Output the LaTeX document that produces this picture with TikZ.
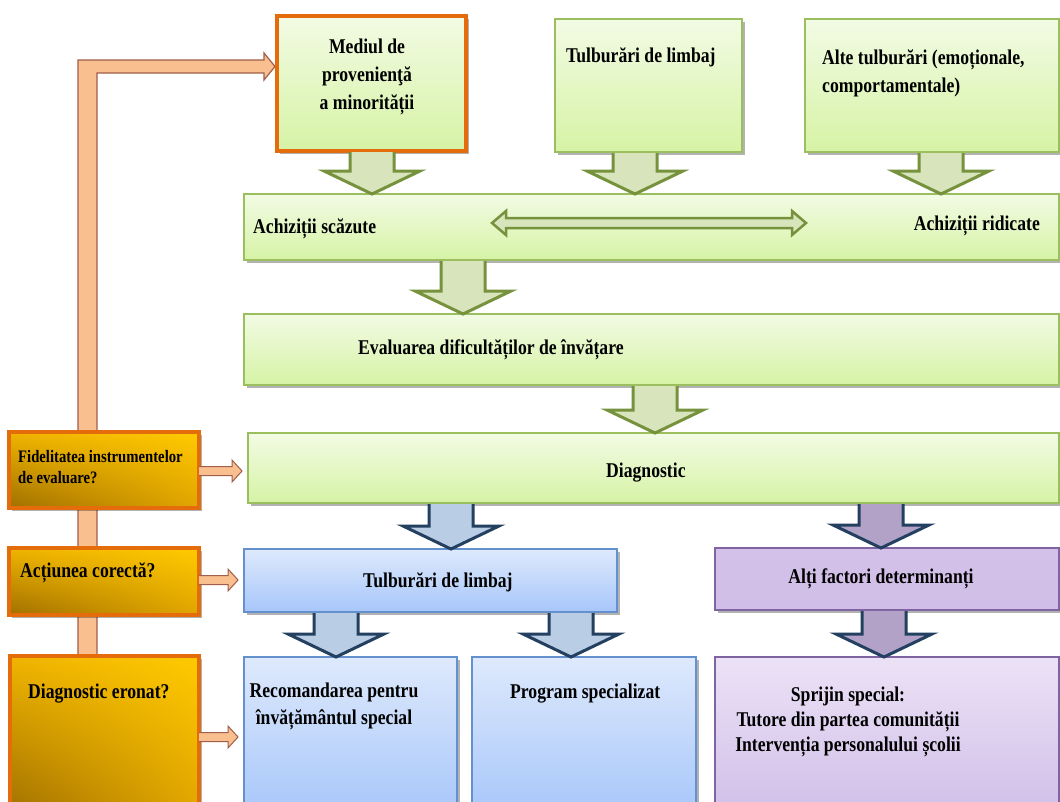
\documentclass[tikz,border=0pt]{standalone}
\usepackage{fontspec}
\setmainfont{Liberation Serif}[FakeStretch=0.84]
\usetikzlibrary{calc,shadows,shadings}
\definecolor{gtop}{RGB}{242,251,228}
\definecolor{gbot}{RGB}{214,243,165}
\definecolor{gline}{RGB}{155,190,95}
\definecolor{garf}{RGB}{216,228,188}
\definecolor{garl}{RGB}{118,146,60}
\definecolor{btop}{RGB}{222,233,252}
\definecolor{bbot}{RGB}{166,198,250}
\definecolor{bline}{RGB}{100,145,205}
\definecolor{barf}{RGB}{185,205,229}
\definecolor{navy}{RGB}{36,64,97}
\definecolor{ptop}{RGB}{236,226,246}
\definecolor{pbot}{RGB}{208,190,232}
\definecolor{pmid}{RGB}{211,193,233}
\definecolor{pline}{RGB}{128,100,162}
\definecolor{parf}{RGB}{178,162,199}
\definecolor{oline}{RGB}{228,108,10}
\definecolor{pipef}{RGB}{250,191,143}
\definecolor{pipel}{RGB}{160,95,75}
\definecolor{goldul}{RGB}{240,180,0}
\definecolor{goldur}{RGB}{255,202,0}
\definecolor{goldll}{RGB}{160,112,0}
\definecolor{goldlr}{RGB}{225,165,0}
\newcommand\blkdown[4]{% style, x, from node, to node
  \coordinate (at) at (#2,0 |- #3.south);
  \coordinate (ab) at (#2,0 |- #4.north);
  \filldraw[#1] ($(at)+(-22,1)$) -- ($(ab)+(-22,-23)$) -- ($(ab)+(-48,-23)$) -- (ab)
    -- ($(ab)+(48,-23)$) -- ($(ab)+(22,-23)$) -- ($(at)+(22,1)$);}
\newcommand\blkright[3]{% y, from node, to node
  \coordinate (bs) at (#2.east |- 0,#1);
  \coordinate (bt) at ($(#3.west |- 0,#1)+(-6,0)$);
  \filldraw[sarrow] ($(bs)+(0,-4.5)$) -- ($(bt)+(-10,-4.5)$) -- ($(bt)+(-10,-11)$) -- (bt)
    -- ($(bt)+(-10,11)$) -- ($(bt)+(-10,4.5)$) -- ($(bs)+(0,4.5)$);}
\begin{document}
\begin{tikzpicture}[x=1pt,y=-1pt,
  box/.style={anchor=north west, inner sep=0, outer sep=0,
    drop shadow={shadow xshift=2.5pt,shadow yshift=-2.5pt,opacity=0.3,fill=black}},
  gbox/.style={box, draw=gline, line width=1.2pt, top color=gtop, bottom color=gbot},
  bbox/.style={box, draw=bline, line width=1.2pt, top color=btop, bottom color=bbot},
  pbox/.style={box, draw=pline, line width=1.2pt, top color=ptop, bottom color=pbot},
  obox/.style={box, draw=oline, line width=3.5pt, upper left=goldul, upper right=goldur,
    lower left=goldll, lower right=goldlr},
  garrow/.style={fill=garf, draw=garl, line width=3pt, line join=miter},
  barrow/.style={fill=barf, draw=navy, line width=3pt, line join=miter},
  parrow/.style={fill=parf, draw=navy, line width=3pt, line join=miter},
  sarrow/.style={fill=pipef, draw=pipel, line width=1pt},
  pipe/.style={fill=pipef, draw=pipel, line width=1.2pt},
  txt/.style={inner sep=0, font=\bfseries\fontsize{21}{28}\selectfont},
  stxt/.style={inner sep=0, font=\bfseries\fontsize{17.5}{21}\selectfont}]
\useasboundingbox[fill=white] (0,0) rectangle (1060,801);
% orange feedback pipe
\filldraw[pipe] (78,656) -- (78,60) -- (264,60) -- (264,53) -- (275,66.5) -- (264,80) -- (264,73) -- (97,73) -- (97,656);
% boxes
\node[gbox, draw=oline, line width=3.5pt, minimum width=189, minimum height=135] (mediul) at (277,16) {};
\node[gbox, minimum width=187, minimum height=133] (tl1) at (555,19) {};
\node[gbox, minimum width=254, minimum height=133] (alte) at (805,19) {};
\node[gbox, minimum width=815, minimum height=66] (achiz) at (244,194) {};
\node[gbox, minimum width=815, minimum height=71] (eval) at (244,314) {};
\node[gbox, minimum width=811, minimum height=70] (diag) at (248,433) {};
\node[bbox, minimum width=373, minimum height=63] (tl2) at (244,549) {};
\node[pbox, top color=pmid, bottom color=pbot, minimum width=344, minimum height=62] (alti) at (715,548) {};
\node[bbox, minimum width=213, minimum height=160] (recom) at (244,657) {};
\node[bbox, minimum width=224, minimum height=160] (prog) at (472,657) {};
\node[pbox, minimum width=344, minimum height=160] (sprijin) at (715,657) {};
\node[obox, minimum width=190, minimum height=76] (fid) at (9,432) {};
\node[obox, minimum width=190, minimum height=67] (act) at (9,548) {};
\node[obox, minimum width=189, minimum height=160] (err) at (10,656) {};
% block arrows
\blkdown{garrow}{372}{mediul}{achiz}
\blkdown{garrow}{635}{tl1}{achiz}
\blkdown{garrow}{941}{alte}{achiz}
\blkdown{garrow}{463}{achiz}{eval}
\blkdown{garrow}{655}{eval}{diag}
\blkdown{barrow}{451}{diag}{tl2}
\blkdown{parrow}{881}{diag}{alti}
\blkdown{barrow}{336}{tl2}{recom}
\blkdown{barrow}{571}{tl2}{prog}
\blkdown{parrow}{884}{alti}{sprijin}
% side arrows
\blkright{471}{fid}{diag}
\blkright{580}{act}{tl2}
\blkright{737}{err}{recom}
% double arrow inside Achizitii bar
\coordinate (dl) at (492,223);
\coordinate (dr) at (806,223);
\filldraw[fill=garf, draw=garl, line width=2.5pt, line join=miter]
  (dl) -- ($(dl)+(14,-12)$) -- ($(dl)+(14,-5)$) -- ($(dr)+(-14,-5)$) -- ($(dr)+(-14,-12)$) -- (dr)
  -- ($(dr)+(-14,12)$) -- ($(dr)+(-14,5)$) -- ($(dl)+(14,5)$) -- ($(dl)+(14,12)$) -- cycle;
% texts
\node[txt, align=center, anchor=north] (tmed) at (367,39) {Mediul de\\provenienţă\\a minorității};
\node[txt, anchor=base west] (ttl1) at (566,62) {Tulburări de limbaj};
\node[txt, align=left, anchor=north west] (talte) at (822,49) {Alte tulburări (emoționale,\\comportamentale)};
\node[txt, anchor=base west] (tasc) at (253,233) {Achiziții scăzute};
\node[txt, anchor=base east] (tarid) at (1040,230) {Achiziții ridicate};
\node[txt, anchor=base west] (teval) at (358,354) {Evaluarea dificultăților de învățare};
\node[txt, anchor=base west] (tdiag) at (606,477) {Diagnostic};
\node[txt, anchor=base west] (ttl2) at (363,587) {Tulburări de limbaj};
\node[txt, anchor=base] (talti) at (881,583) {Alți factori determinanți};
\node[txt, align=center, anchor=north, font=\bfseries\fontsize{21}{27}\selectfont] (trec) at (334,683) {Recomandarea pentru\\învățământul special};
\node[txt, anchor=base west] (tprog) at (510,698) {Program specializat};
\node[txt, align=center, anchor=north, font=\bfseries\fontsize{21}{25}\selectfont] (tspr) at (848,687) {Sprijin special:\\Tutore din partea comunității\\Intervenția personalului școlii};
\node[stxt, align=left, anchor=north west] (tfid) at (18,450) {Fidelitatea instrumentelor\\de evaluare?};
\node[txt, anchor=base west] (tact) at (20,577) {Acțiunea corectă?};
\node[txt, anchor=base west] (terr) at (28,698) {Diagnostic eronat?};
\end{tikzpicture}
\end{document}
